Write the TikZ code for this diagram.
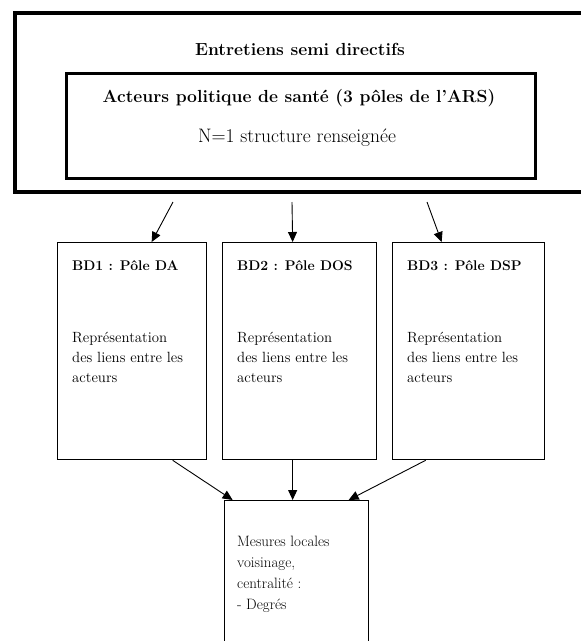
\documentclass[tikz,border=0pt]{standalone}
\usepackage{amsmath,amssymb}
\usepackage{tikz}
\usepackage{xcolor}
\usetikzlibrary{arrows.meta,positioning}

\tikzset{
  grandcadre/.style={draw,line width=3.5pt,minimum width=573pt,minimum height=179pt,inner sep=0pt,anchor=north west},
  cadre/.style={draw,line width=3pt,minimum width=469pt,minimum height=105pt,inner sep=0pt,anchor=north west},
  bdbox/.style={draw,line width=1.3pt,minimum height=217pt,inner sep=0pt,anchor=north west},
  titre/.style={anchor=base,inner sep=0pt,font=\fontsize{17.5}{20}\selectfont\bfseries},
  bdtitre/.style={anchor=base west,inner sep=0pt,font=\fontsize{14}{16}\selectfont\bfseries},
  bdtexte/.style={anchor=base west,align=left,inner sep=0pt,font=\fontsize{14.8}{20}\selectfont},
}

\begin{document}
\begin{tikzpicture}[x=1pt,y=-1pt,>={Triangle[length=10pt,width=9pt]}]
			\clip (0,0) rectangle (581,641);
			% bloc du haut
			\node[grandcadre] (entretiens) at (13,11) {};
			\node[cadre] (acteurs) at (65,72) {};
			\node[titre] (t1) at (300,55) {Entretiens semi directifs};
			\node[titre] (t2) at (299,102) {Acteurs politique de santé (3 pôles de l'ARS)};
			\node[anchor=base,inner sep=0pt,font=\fontsize{19.5}{22}\selectfont] (t3) at (297,142) {N=1 structure renseignée};
			% les trois BD
			\node[bdbox,minimum width=149pt] (bd1) at (57,242) {};
			\node[bdbox,minimum width=154pt] (bd2) at (222,242) {};
			\node[bdbox,minimum width=152pt] (bd3) at (392,242) {};
			\foreach \b/\p in {bd1/{BD1 : Pôle DA},bd2/{BD2 : Pôle DOS},bd3/{BD3 : Pôle DSP}} {
				\node[bdtitre] (\b t) at ([shift={(15pt,-28pt)}]\b.north west) {\p};
				\node[bdtexte] (\b r) at ([shift={(15pt,-140pt)}]\b.north west) {Représentation\\des liens entre les\\acteurs};
			}
			% mesures
			\node[bdbox,minimum width=144pt,minimum height=170pt] (mesures) at (224,500) {};
			\node[bdtexte,font=\fontsize{15}{21}\selectfont] (mesurest) at ([shift={(13pt,-109pt)}]mesures.north west) {Mesures locales\\voisinage,\\centralité :\\- Degrés};
			% fleches
			\coordinate (d1) at (173,202);
			\coordinate (d2) at (292,202);
			\coordinate (d3) at (427,202);
			\draw[->,line width=0.9pt] (d1) -- ([xshift=19.5pt]bd1.north);
			\draw[->,line width=0.9pt] (d2) -- ([xshift=-7pt]bd2.north);
			\draw[->,line width=0.9pt] (d3) -- ([xshift=-27pt]bd3.north);
			\draw[->,line width=0.9pt] ([xshift=40.5pt]bd1.south) -- ([xshift=-64pt]mesures.north);
			\draw[->,line width=0.9pt] ([xshift=-7pt]bd2.south) -- ([xshift=-4pt]mesures.north);
			\draw[->,line width=0.9pt] ([xshift=-43pt]bd3.south) -- ([xshift=52pt]mesures.north);
		\end{tikzpicture}
\end{document}
